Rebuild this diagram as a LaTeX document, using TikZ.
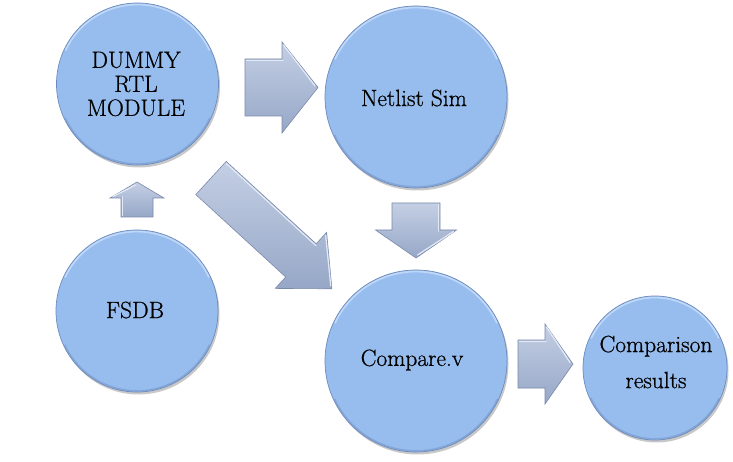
\documentclass[tikz,border=0pt]{standalone}
\usepackage{fontspec}
\newfontfamily\heavyrm{Latin Modern Roman}[FakeBold=0.7]
\usetikzlibrary{shadows,calc}
\definecolor{cfill}{RGB}{151,189,238}
\definecolor{cedge}{RGB}{108,138,188}
\definecolor{chigh}{RGB}{192,216,248}
\definecolor{alight}{RGB}{196,207,228}
\definecolor{adark}{RGB}{150,167,199}
\definecolor{aedge}{RGB}{122,138,170}
\definecolor{ahigh}{RGB}{228,234,245}
\tikzset{
  bub/.style={circle, inner sep=0pt, minimum size=#1, fill=cfill, draw=cedge,
    line width=0.7pt,
    drop shadow={shadow xshift=1.5pt, shadow yshift=-2.5pt, opacity=0.3, fill=black!70}},
  lbl/.style={align=center, inner sep=0pt, text=black},
  barrow/.style={top color=alight, bottom color=adark, draw=aedge, line width=0.6pt, line join=miter},
  bhigh/.style={draw=ahigh, line width=1.2pt, line cap=round},
}
\newcommand\bubhl[2]{%
  \draw[chigh, line width=1.6pt] ($(#1.center)+(25:#2-1.6)$) arc[start angle=25,end angle=155,radius=#2-1.6];
  \draw[cedge, line width=1.4pt, opacity=0.45] ($(#1.center)+(205:#2-1.2)$) arc[start angle=205,end angle=335,radius=#2-1.2];
}
% tail, angle, length, shaft half width, head half width, head length
\newcommand\blockarr[6]{%
  \begin{scope}[shift={(#1)}, rotate=#2]
    \draw[barrow] (0,-#4) -- ({#3-#6},-#4) -- ({#3-#6},-#5) -- (#3,0) -- ({#3-#6},#5) -- ({#3-#6},#4) -- (0,#4) -- cycle;
    \draw[bhigh] (1.5,{#4-1.5}) -- ({#3-#6+1},{#4-1.5});
    \draw[bhigh] ({#3-#6+1.5},{#5-3}) -- ({#3-3},1.5);
  \end{scope}}
\begin{document}
\begin{tikzpicture}[x=1pt,y=1pt]
\useasboundingbox (0,0) rectangle (733,461);
\fill[white] (0,0) rectangle (733,461);

% circles
\node[bub=162] (dummy)   at (137.5,377) {};
\node[bub=182] (netlist) at (416,364) {};
\node[bub=162] (fsdb)    at (137,150) {};
\node[bub=182] (compare) at (416,100) {};
\node[bub=144] (results) at (655,93) {};
\bubhl{dummy}{81}
\bubhl{netlist}{91}
\bubhl{fsdb}{81}
\bubhl{compare}{91}
\bubhl{results}{72}

% labels
\node[lbl, font=\heavyrm\fontsize{23.5}{24}\selectfont] (dummyT) at (136,377) {DUMMY\\RTL\\MODULE};
\node[lbl, font=\heavyrm\fontsize{23.5}{24}\selectfont] (netlistT) at (414,363) {Netlist Sim};
\node[lbl, font=\heavyrm\fontsize{23.5}{24}\selectfont] (fsdbT) at (135,151) {FSDB};
\node[lbl, font=\heavyrm\fontsize{23.5}{24}\selectfont] (compareT) at (412,101) {Compare.v};
\node[lbl, font=\heavyrm\fontsize{23.5}{36}\selectfont] (resultsT) at (656,99) {Comparison\\results};

% block arrows
\coordinate (a1) at (245,373.5);
\coordinate (aup) at (137,244);
\coordinate (adn) at (416,258);
\coordinate (adg) at (211,283);
\coordinate (a2) at (518,97);
\blockarr{a1}{0}{73}{28.5}{45.5}{36}
\blockarr{aup}{90}{35}{16}{27}{16}
\blockarr{adn}{-90}{55}{24}{40.5}{28}
\blockarr{adg}{-42.5}{164}{22.5}{38}{42}
\blockarr{a2}{0}{55}{24}{40}{28}
\end{tikzpicture}
\end{document}
